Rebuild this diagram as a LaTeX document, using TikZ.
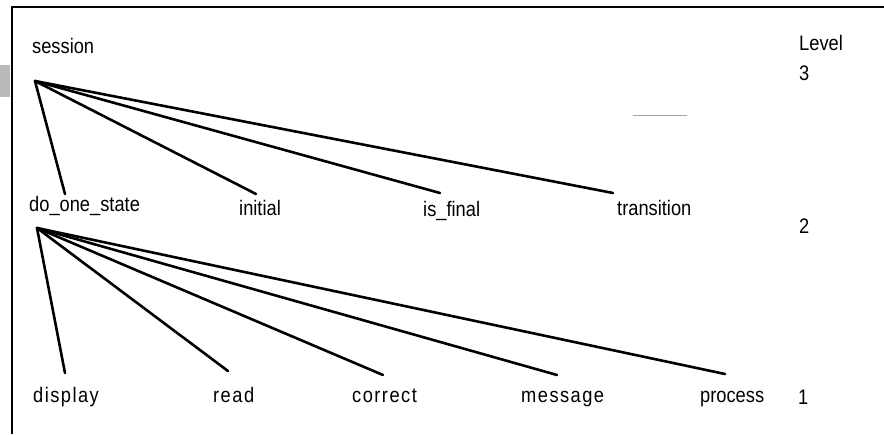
\documentclass[tikz,border=0pt]{standalone}
\usepackage{fontspec}
\newfontfamily\treefont[FakeStretch=0.87]{Liberation Sans}
\newfontfamily\treefontwide[FakeStretch=0.87,LetterSpace=7]{Liberation Sans}
\begin{document}
\begin{tikzpicture}[x=1pt,y=-1pt,
  lbl/.style={anchor=base west,inner sep=0pt,font=\treefont\fontsize{21}{24}\selectfont},
  lblwide/.style={anchor=base west,inner sep=0pt,font=\treefontwide\fontsize{21}{24}\selectfont},
  edge/.style={line width=2.6pt,line cap=round,line join=round},
  frame/.style={line width=2pt}]
\useasboundingbox (0,0) rectangle (884,434);

% open frame: top and left rules
\draw[frame] (12,434) -- (12,6.5) -- (884,6.5);
% scanned margin marks
\fill[gray!55] (0,65) rectangle (10,97);
\draw[gray!70,line width=0.8pt] (633,115) -- (687,115);

% level captions
\node[lbl] (lvl)  at (799,50)  {Level};
\node[lbl] (lvl3) at (799,80)  {3};
\node[lbl] (lvl2) at (799,233) {2};
\node[lbl] (lvl1) at (798,404) {1};

% level 3
\node[lbl] (session) at (32,53) {session};
\coordinate (sessionroot) at (35,81);

% level 2
\node[lbl] (doone)      at (29,211)  {do\_one\_state};
\node[lbl] (initial)    at (239,215) {initial};
\node[lbl] (isfinal)    at (423,216) {is\_final};
\node[lbl] (transition) at (617,215) {transition};
\coordinate (doone-in)       at (65,194);
\coordinate (initial-in)     at (256,194);
\coordinate (isfinal-in)     at (440,193);
\coordinate (transition-in)  at (613,193);
\coordinate (doneroot) at (37,228);

% level 1
\node[lblwide] (display) at (33,402)  {display};
\node[lblwide] (read)    at (213,402) {read};
\node[lblwide] (correct) at (352,402) {correct};
\node[lblwide] (message) at (521,402) {message};
\node[lbl]     (process) at (700,402) {process};
\coordinate (display-in) at (65,373);
\coordinate (read-in)    at (228,371);
\coordinate (correct-in) at (383,375);
\coordinate (message-in) at (557,375);
\coordinate (process-in) at (725,374);

% calls from session
\foreach \t in {doone,initial,isfinal,transition}
  \draw[edge] (sessionroot) -- (\t-in);
% calls from do_one_state
\foreach \t in {display,read,correct,message,process}
  \draw[edge] (doneroot) -- (\t-in);
\end{tikzpicture}
\end{document}
